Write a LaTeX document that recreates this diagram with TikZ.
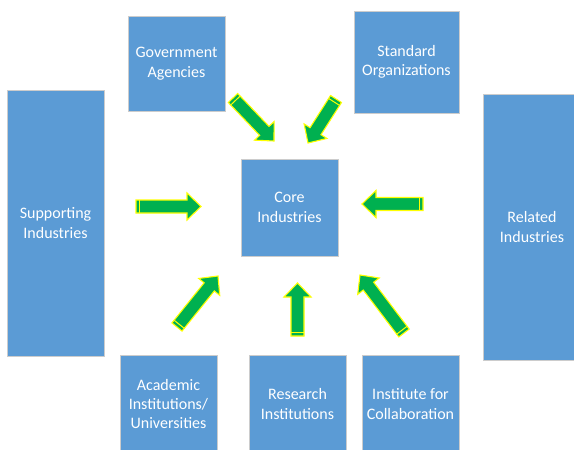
\documentclass[tikz,border=0pt]{standalone}
\usepackage{fontspec}
\setmainfont{Carlito}
\usetikzlibrary{calc}
\definecolor{boxblue}{HTML}{5B9BD5}
\definecolor{arrgreen}{HTML}{00B050}
\definecolor{arryellow}{HTML}{FFFF00}
\tikzset{
  box/.style={draw=black!20, line width=0.8pt, fill=boxblue, text=white, align=center,
    font=\fontsize{16}{19.5}\selectfont, inner sep=0pt},
  barrow/.style={fill=arrgreen, draw=arryellow, line width=1.1pt, line join=miter},
  stripe/.style={draw=arryellow, line width=1pt}
}
\newcommand\blockarrow[3]{%
  \coordinate (#1-t) at (#2);
  \coordinate (#1-h) at (#3);
  \coordinate (#1-n) at ($(#1-h)!14pt!(#1-t)$);
  \coordinate (#1-s) at ($(#1-t)!3.5pt!(#1-h)$);
  \filldraw[barrow] ($(#1-t)!6.5pt!90:(#1-h)$) -- ($(#1-n)!6.5pt!90:(#1-h)$)
    -- ($(#1-n)!13.5pt!90:(#1-h)$) -- (#1-h) -- ($(#1-n)!13.5pt!-90:(#1-h)$)
    -- ($(#1-n)!6.5pt!-90:(#1-h)$) -- ($(#1-t)!6.5pt!-90:(#1-h)$) -- cycle;
  \draw[stripe] ($(#1-s)!6.5pt!90:(#1-h)$) -- ($(#1-s)!6.5pt!-90:(#1-h)$);
}
\begin{document}
\begin{tikzpicture}[x=1pt,y=-1pt]
\useasboundingbox (0,0) rectangle (574,450);
\clip (0,0) rectangle (574,450);
\fill[white] (0,0) rectangle (574,450);
\node[box, minimum width=97pt, minimum height=95pt] (gov) at (176.5,63.5) {Government\\Agencies};
\node[box, minimum width=105pt, minimum height=102pt] (std) at (406.5,62) {Standard\\Organizations};
\node[box, minimum width=97pt, minimum height=266pt] (sup) at (55.5,223) {Supporting\\Industries};
\node[box, minimum width=98pt, minimum height=266pt] (rel) at (532,227) {Related\\Industries};
\node[box, minimum width=97pt, minimum height=97pt] (core) at (289.5,207.5) {Core\\Industries};
\node[box, minimum width=97pt, minimum height=98pt] (aca) at (168.5,404) {Academic\\Institutions/\\Universities};
\node[box, minimum width=97pt, minimum height=98pt] (res) at (297.5,404) {Research\\Institutions};
\node[box, minimum width=97pt, minimum height=98pt] (ins) at (410.5,404) {Institute for\\Collaboration};
\blockarrow{a1}{136,206.5}{201,206.5}
\blockarrow{a2}{423,204}{362,204}
\blockarrow{a3}{233,98}{274,141}
\blockarrow{a4}{336,99}{308,143}
\blockarrow{a5}{177,327}{218,276}
\blockarrow{a6}{297.5,336}{297.5,283}
\blockarrow{a7}{404,333}{360,275}
\end{tikzpicture}
\end{document}
